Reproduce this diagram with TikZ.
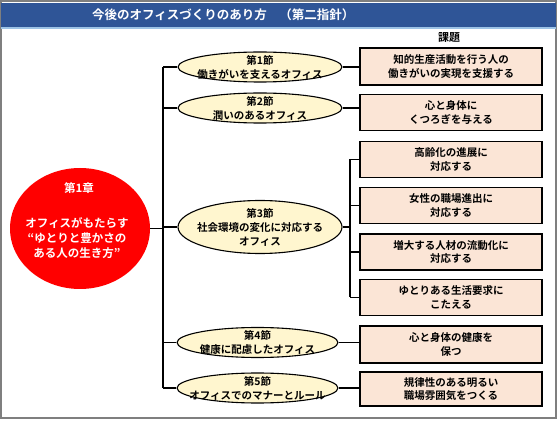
\documentclass[tikz,border=0pt]{standalone}
\usepackage{fontspec}
\setmainfont{Noto Sans CJK JP}[UprightFont={* Medium},BoldFont={* Bold}]
\usetikzlibrary{shapes.geometric}
\definecolor{barblue}{HTML}{2F5597}
\definecolor{barline}{HTML}{9DC3E6}
\definecolor{elfill}{HTML}{FFF6CF}
\definecolor{boxfill}{HTML}{FBE5D6}
\definecolor{framegray}{HTML}{7F7F7F}
\definecolor{chapred}{HTML}{FF0000}
\tikzset{
  secell/.style={ellipse,draw=black,line width=1.1pt,fill=elfill,minimum width=164pt,minimum height=30pt,inner sep=0pt},
  sectext/.style={inner sep=0pt,align=center,font=\bfseries\fontsize{10.5}{14}\selectfont},
  taskbox/.style={rectangle,draw=black,line width=1.8pt,fill=boxfill,minimum width=182pt,minimum height=36pt,inner sep=0pt,align=center,font=\bfseries\fontsize{10.5}{13.5}\selectfont},
  conn/.style={draw=black,line width=1.4pt},
}
\begin{document}
\begin{tikzpicture}[x=1pt,y=-1pt]
\useasboundingbox (0,0) rectangle (560,422);
% frame and title bar
\draw[framegray,line width=1.5pt] (1,1) rectangle (556,418);
\fill[barblue] (1,3) rectangle (556,27);
\fill[barline] (1,27) rectangle (556,29);
\node[anchor=west,text=white,font=\bfseries\fontsize{12.5}{15}\selectfont,inner sep=0pt] (title) at (92,15) {今後のオフィスづくりのあり方　（第二指針）};
\node[font=\bfseries\fontsize{11}{13}\selectfont,inner sep=0pt] (kadai) at (449,38) {課題};
% chapter
\node[ellipse,fill=chapred,minimum width=140pt,minimum height=121pt,inner sep=0pt] (chap) at (80,228.5) {};
\node[text=white,font=\bfseries\fontsize{11.5}{15}\selectfont,inner sep=0pt] (chapt) at (79,188) {第1章};
\node[text=white,font=\bfseries\fontsize{11.5}{15}\selectfont,align=center,inner sep=0pt] (chapb) at (77,238) {オフィスがもたらす\\“ゆとりと豊かさの\\ある人の生き方”};
% sections
\node[secell] (e1) at (260,67) {};
\node[sectext] (e1t) at (e1) {第1節\\働きがいを支えるオフィス};
\node[secell] (e2) at (260,108) {};
\node[sectext] (e2t) at (e2) {第2節\\潤いのあるオフィス};
\node[secell,minimum height=53pt] (e3) at (260,227) {};
\node[sectext] (e3t) at (e3) {第3節\\社会環境の変化に対応する\\オフィス};
\node[secell,minimum width=161pt] (e4) at (257.5,342.5) {};
\node[sectext] (e4t) at (e4) {第4節\\健康に配慮したオフィス};
\node[secell,minimum width=161pt] (e5) at (257.5,388) {};
\node[sectext] (e5t) at (e5) {第5節\\オフィスでのマナーとルール};
% tasks
\node[taskbox,minimum height=37pt] (b1) at (451,66.5) {知的生産活動を行う人の\\働きがいの実現を支援する};
\node[taskbox] (b2) at (451,112.5) {心と身体に\\くつろぎを与える};
\node[taskbox] (b3) at (451,159.5) {高齢化の進展に\\対応する};
\node[taskbox] (b4) at (451,205.5) {女性の職場進出に\\対応する};
\node[taskbox] (b5) at (451,252) {増大する人材の流動化に\\対応する};
\node[taskbox] (b6) at (451,297.5) {ゆとりある生活要求に\\こたえる};
\node[taskbox,minimum height=37pt] (b7) at (451,344.5) {心と身体の健康を\\保つ};
\node[taskbox,minimum height=34pt] (b8) at (451,389) {規律性のある明るい\\職場雰囲気をつくる};
% trunk
\coordinate (t1) at (163,67);
\coordinate (t5) at (163,388);
\coordinate (tc) at (163,228.5);
\draw[conn] (t1) -- (t5);
\draw[conn] (chap.east) -- (tc);
\foreach \e in {e1,e2,e3,e4,e5}{\draw[conn] (\e.west) -- (\e.west -| tc);}
% right side
\draw[conn] (e1.east) -- (e1.east -| b1.west);
\draw[conn] (e2.east) -- (e2.east -| b2.west);
\draw[conn] (e4.east) -- (e4.east -| b7.west);
\draw[conn] (e5.east) -- (e5.east -| b8.west);
\coordinate (br) at (350,227);
\draw[conn] (e3.east) -- (br);
\draw[conn] (br |- b3.west) -- (br |- b6.west);
\foreach \b in {b3,b4,b5,b6}{\draw[conn] (br |- \b.west) -- (\b.west);}
\end{tikzpicture}
\end{document}
